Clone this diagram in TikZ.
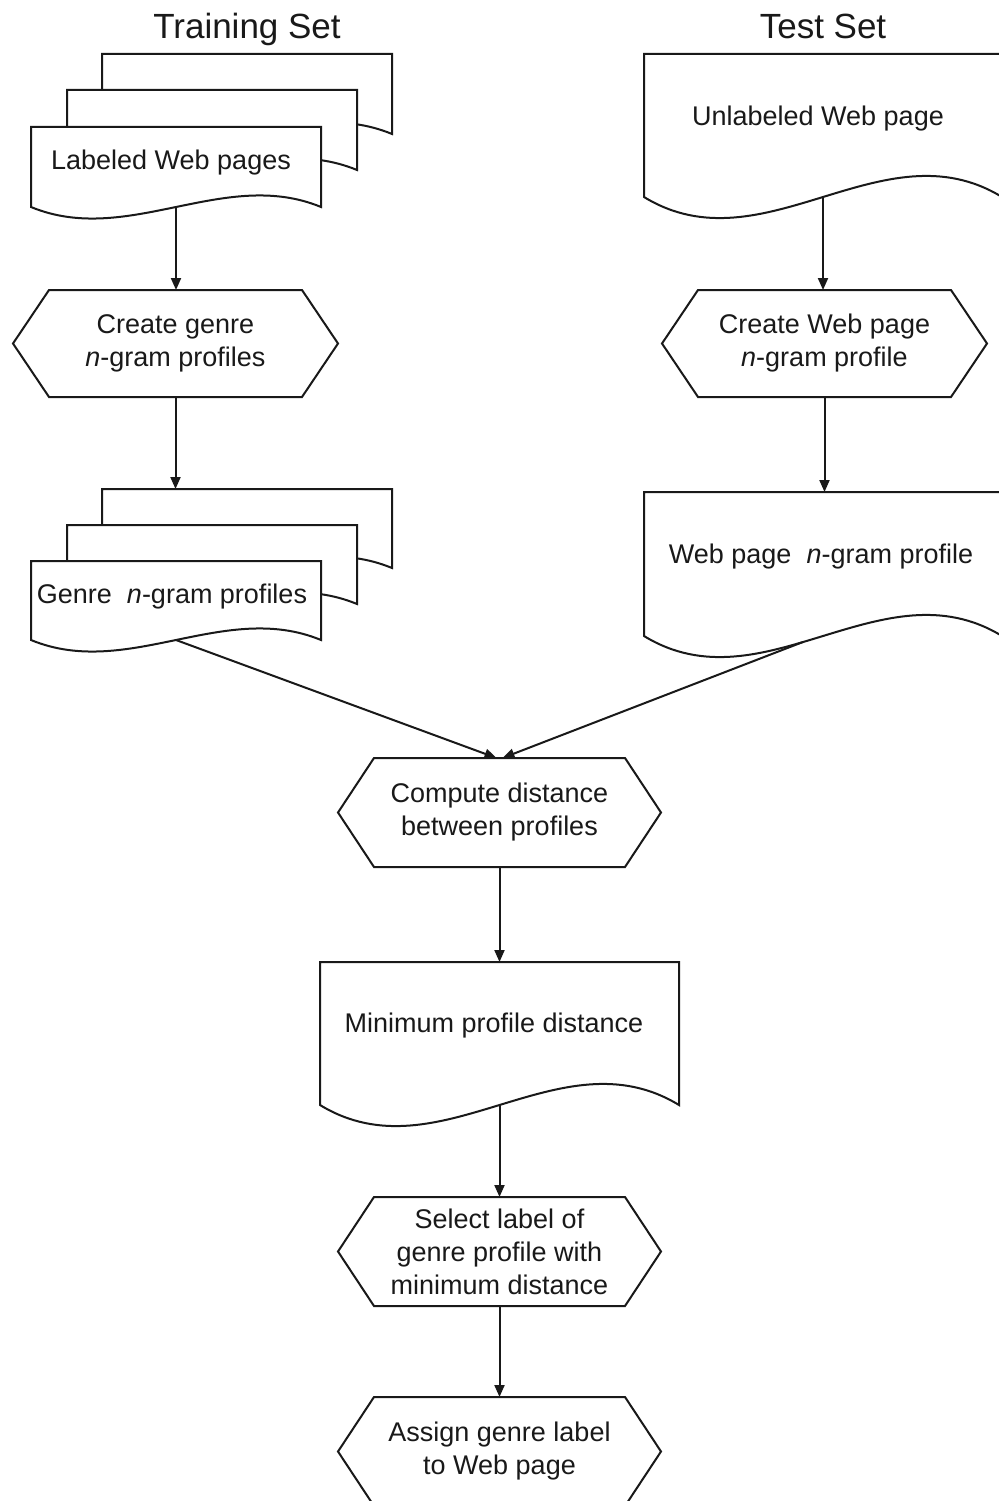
\documentclass[tikz,border=0pt]{standalone}
\usepackage{fontspec}
\setmainfont{Liberation Sans}
\usetikzlibrary{calc,arrows.meta}
\tikzset{
  shp/.style={draw=black!90, line width=2pt, line join=miter},
  docfill/.style={shp, fill=white},
  frame/.style={rectangle, inner sep=0pt, outer sep=0pt},
  hexbox/.style={rectangle, inner sep=0pt, outer sep=0pt, align=center,
    minimum width=#1, minimum height=107pt, font=\fontsize{27}{33}\selectfont, text=black!90},
  lbl/.style={inner sep=0pt, anchor=base, font=\fontsize{27}{33}\selectfont, text=black!90},
  ttl/.style={inner sep=0pt, anchor=base, font=\fontsize{35}{42}\selectfont, text=black!90},
  arr/.style={line width=2pt, draw=black!90, -{Triangle[length=12pt,width=10pt]}},
}
\newcommand\docshape[2]{%
  \draw[docfill] (#1.south east) -- (#1.north east) -- (#1.north west) -- (#1.south west)
    .. controls ($(#1.south west)!1/3!(#1.south east)+(0,#2)$) and
       ($(#1.south west)!2/3!(#1.south east)+(0,-#2)$) .. (#1.south east) -- cycle;}
\newcommand\hexshape[1]{%
  \draw[shp] (#1.west) -- ([xshift=36pt]#1.north west) -- ([xshift=-36pt]#1.north east)
    -- (#1.east) -- ([xshift=-36pt]#1.south east) -- ([xshift=36pt]#1.south west) -- cycle;}
\begin{document}
\begin{tikzpicture}[x=1pt,y=-1pt]
\useasboundingbox (0,0) rectangle (998,1501);
\fill[white] (0,0) rectangle (998,1501);

% titles
\node[ttl] (ttrain) at (247,39) {Training Set};
\node[ttl] (ttest) at (823,39) {Test Set};

% ---------- stack 1 (Labeled Web pages)
\node[frame, minimum width=290pt, minimum height=80pt] (s1a) at (247,94) {};
\node[frame, minimum width=290pt, minimum height=80pt] (s1b) at (212,130) {};
\node[frame, minimum width=290pt, minimum height=80pt] (s1c) at (176,167) {};
\docshape{s1a}{40}
\docshape{s1b}{40}
\docshape{s1c}{40}
\node[lbl] (t1) at (171,169) {Labeled Web pages};

% ---------- hexagon 1
\node[hexbox=325pt] (h1) at (175.5,343.5) {Create genre\\\textit{n}-gram profiles};
\hexshape{h1}

% ---------- stack 2 (Genre n-gram profiles)
\node[frame, minimum width=290pt, minimum height=79pt] (s2a) at (247,528.5) {};
\node[frame, minimum width=290pt, minimum height=79pt] (s2b) at (212,564.5) {};
\node[frame, minimum width=290pt, minimum height=79pt] (s2c) at (176,600.5) {};
\docshape{s2a}{40}
\docshape{s2b}{40}
\docshape{s2c}{40}
\node[lbl] (t2) at (172,603) {Genre\ \ \textit{n}-gram profiles};

% ---------- right document 1 (Unlabeled Web page)
\node[frame, minimum width=358pt, minimum height=143pt] (d1) at (823,125.5) {};
\docshape{d1}{73}
\node[lbl] (t3) at (818,125) {Unlabeled Web page};

% ---------- hexagon 2
\node[hexbox=325pt] (h2) at (824.5,343.5) {Create Web page\\\textit{n}-gram profile};
\hexshape{h2}

% ---------- right document 2
\node[frame, minimum width=358pt, minimum height=144pt] (d2) at (823,564) {};
\docshape{d2}{73}
\node[lbl] (t4) at (821,563) {Web page\ \ \textit{n}-gram profile};

% ---------- hexagon 3
\node[hexbox=323pt, minimum height=109pt] (h3) at (499.5,812.5) {Compute distance\\between profiles};
\hexshape{h3}

% ---------- document 3
\node[frame, minimum width=359pt, minimum height=143pt] (d3) at (499.5,1033.5) {};
\docshape{d3}{73}
\node[lbl] (t5) at (494,1032) {Minimum profile distance};

% ---------- hexagon 4
\node[hexbox=323pt, minimum height=109pt] (h4) at (499.5,1251.5) {Select label of\\genre profile with\\minimum distance};
\hexshape{h4}

% ---------- hexagon 5
\node[hexbox=323pt, minimum height=109pt] (h5) at (499.5,1451.5) {Assign genre label\\to Web page};
\hexshape{h5}

% ---------- connectors
\coordinate (d2out) at ($(d2.south west)!0.444!(d2.south east)+(0,6)$);
\draw[arr] (s1c.south) -- (s1c.south |- h1.north);
\draw[arr] (h1.south) -- (h1.south |- s2a.north);
\draw[arr] (d1.south) -- (d1.south |- h2.north);
\draw[arr] (h2.south) -- (h2.south |- d2.north);
\draw[arr] (s2c.south) -- ([xshift=-3pt]h3.north);
\draw[arr] (d2out) -- ([xshift=3pt]h3.north);
\draw[arr] (h3.south) -- (d3.north);
\draw[arr] (d3.south) -- (h4.north);
\draw[arr] (h4.south) -- (h5.north);
\end{tikzpicture}
\end{document}
